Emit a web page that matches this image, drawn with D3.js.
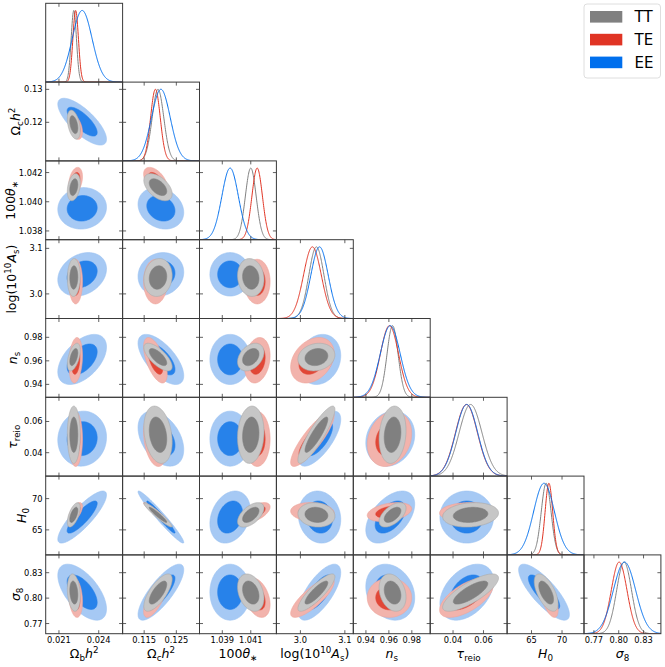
<!DOCTYPE html>
<html><head><meta charset="utf-8">
<script src="https://cdn.jsdelivr.net/npm/d3@7"></script>
<style>body{margin:0;background:#fff} svg{display:block} text{font-family:"DejaVu Sans",sans-serif;fill:#000}</style>
</head><body><svg id="c" width="665" height="667"></svg>
<script>
// ---------------- data ----------------
const params = ["omegabh2","omegach2","theta","logA","ns","tau_reio","H0","sigma8"];
const ranges = [[0.0200,0.0258],[0.1083,0.1322],[1.0374,1.0428],[2.946,3.119],[0.929,0.996],[0.025,0.0755],[61.0,73.6],[0.758,0.851]];
const xTicks = [[0.021,0.024],[0.115,0.125],[1.039,1.041],[3.0,3.1],[0.94,0.96,0.98],[0.04,0.06],[65,70],[0.77,0.80,0.83]];
const xTickLabels = [["0.021","0.024"],["0.115","0.125"],["1.039","1.041"],["3.0","3.1"],["0.94","0.96","0.98"],["0.04","0.06"],["65","70"],["0.77","0.80","0.83"]];
const yTicks = [[],[0.12,0.13],[1.038,1.040,1.042],[3.0,3.1],[0.94,0.96,0.98],[0.04,0.06],[65,70],[0.77,0.80,0.83]];
const yTickLabels = [[],["0.12","0.13"],["1.038","1.040","1.042"],["3.0","3.1"],["0.94","0.96","0.98"],["0.04","0.06"],["65","70"],["0.77","0.80","0.83"]];
const axisLabels = [
  [["Ω","n"],["b","sub"],["h","i"],["2","sup"]],
  [["Ω","n"],["c","sub"],["h","i"],["2","sup"]],
  [["100","n"],["θ","i"],["∗","sub"]],
  [["log(10","n"],["10","sup"],["A","i"],["s","sub"],[")","n"]],
  [["n","i"],["s","sub"]],
  [["τ","i"],["reio","sub"]],
  [["H","i"],["0","sub"]],
  [["σ","i"],["8","sub"]]
];
const datasets = ["TT","TE","EE"];
const lineColors = ["#808080","#E03424","#006FED"];
const meanTT  = [0.02212,0.1193,1.04100,3.036,0.9632,0.0515,67.40,0.8065];
const sigmaTT = [0.00020,0.0018,0.00038,0.017,0.0048,0.0075,0.80,0.0090];
const meanTE  = [0.02226,0.1185,1.04145,3.027,0.9605,0.0488,67.85,0.8005];
const sigmaTE = [0.00021,0.0015,0.00037,0.020,0.0079,0.0072,0.62,0.0095];
const meanEE  = [0.02275,0.1202,1.03955,3.043,0.9612,0.0490,67.05,0.8070];
const sigmaEE = [0.00075,0.0029,0.00058,0.0195,0.0087,0.0072,1.70,0.0135];
const corrTT = [[],[-0.40],[0.30,-0.50],[0.05,0.10,-0.10],[0.50,-0.70,0.35,0.15],[0.00,-0.25,0.10,0.88,0.15],[0.60,-0.95,0.55,-0.10,0.55,0.15],[-0.20,0.72,-0.30,0.85,-0.25,0.78,-0.60]];
const corrTE = [[],[-0.40],[0.30,-0.50],[0.00,0.00,0.00],[0.20,-0.60,0.20,0.30],[0.00,-0.25,0.00,0.85,0.20],[0.60,-0.95,0.55,-0.10,0.35,0.10],[-0.20,0.70,-0.35,0.80,0.00,0.62,-0.60]];
const corrEE = [[],[-0.75],[0.05,-0.20],[0.25,0.10,0.00],[0.50,-0.65,0.00,0.15],[0.05,-0.40,0.00,0.70,0.15],[0.85,-0.97,0.25,-0.10,0.50,0.00],[-0.60,0.80,0.00,0.70,-0.20,0.40,-0.80]];
const contourLevels = [0.95,0.68];

// ---------------- styles ----------------
const fills = {
  TT:{outer:"#c6c6c6",inner:"#808080",edge:"#a9a9a9"},
  TE:{outer:"#f2b3ac",inner:"#e14737",edge:"#eea49b"},
  EE:{outer:"#a6c9f4",inner:"#2782ea",edge:"#9cc2f2"}
};
const sets = {
  TT:{mean:meanTT,sigma:sigmaTT,corr:corrTT},
  TE:{mean:meanTE,sigma:sigmaTE,corr:corrTE},
  EE:{mean:meanEE,sigma:sigmaEE,corr:corrEE}
};

const gLeft=45.7, gTop=3.3, pw=76.9, ph=78.8, n=params.length;
const svg=d3.select("#c");
const xs=ranges.map((r,i)=>d3.scaleLinear().domain(r).range([gLeft+i*pw,gLeft+(i+1)*pw]));
const ys=ranges.map((r,i)=>d3.scaleLinear().domain(r).range([gTop+(i+1)*ph,gTop+i*ph]));
const defs=svg.append("defs");

function ellipsePts(mx,my,sx,sy,rho,k){
  const pts=[];
  for(let t=0;t<160;t++){
    const a=t/160*2*Math.PI;
    pts.push([mx+k*sx*Math.cos(a), my+k*sy*(rho*Math.cos(a)+Math.sqrt(1-rho*rho)*Math.sin(a))]);
  }
  return pts;
}
function rich(sel,segs,fs){
  let cur=0;
  segs.forEach(([t,s])=>{
    const ts=sel.append("tspan").text(t);
    let shift=0,size=fs;
    if(s==="sub"){shift=0.24*fs;size=0.7*fs;}
    if(s==="sup"){shift=-0.4*fs;size=0.7*fs;}
    ts.attr("dy",shift-cur).attr("font-size",size);
    if(s==="i") ts.attr("font-style","italic");
    cur=shift;
  });
}

const tickLen=3.5, frameCol="#3a3a3a";
for(let i=0;i<n;i++){
  for(let j=0;j<=i;j++){
    const x0=gLeft+j*pw, y0=gTop+i*ph;
    const cid="clip"+i+"_"+j;
    defs.append("clipPath").attr("id",cid).append("rect").attr("x",x0).attr("y",y0).attr("width",pw).attr("height",ph);
    const g=svg.append("g").attr("clip-path","url(#"+cid+")");
    if(i===j){
      const yd=d3.scaleLinear().domain([0,1.1]).range([y0+ph,y0]);
      const grid=d3.range(0,301).map(k=>ranges[j][0]+(ranges[j][1]-ranges[j][0])*k/300);
      datasets.forEach((d,di)=>{
        const m=sets[d].mean[j], s=sets[d].sigma[j];
        const line=d3.line().x(v=>xs[j](v)).y(v=>yd(Math.exp(-0.5*((v-m)/s)**2)));
        g.append("path").attr("d",line(grid)).attr("fill","none").attr("stroke",lineColors[di]).attr("stroke-width",1);
      });
    } else {
      ["EE","TE","TT"].forEach(d=>{
        const S=sets[d];
        contourLevels.forEach((p,li)=>{
          const k=Math.sqrt(-2*Math.log(1-p));
          const pts=ellipsePts(S.mean[j],S.mean[i],S.sigma[j],S.sigma[i],S.corr[i][j],k);
          const line=d3.line().x(q=>xs[j](q[0])).y(q=>ys[i](q[1])).curve(d3.curveLinearClosed);
          g.append("path").attr("d",line(pts))
            .attr("fill",li===0?fills[d].outer:fills[d].inner)
            .attr("stroke",li===0?fills[d].edge:fills[d].inner).attr("stroke-width",0.6);
        });
      });
    }
    const tg=svg.append("g").attr("stroke",frameCol).attr("stroke-width",0.8);
    xTicks[j].forEach(v=>{
      const x=xs[j](v);
      tg.append("line").attr("x1",x).attr("x2",x).attr("y1",y0+ph).attr("y2",y0+ph-tickLen);
      tg.append("line").attr("x1",x).attr("x2",x).attr("y1",y0).attr("y2",y0+tickLen);
    });
    yTicks[i].forEach(v=>{
      const y=ys[i](v);
      tg.append("line").attr("x1",x0).attr("x2",x0+tickLen).attr("y1",y).attr("y2",y);
      tg.append("line").attr("x1",x0+pw).attr("x2",x0+pw-tickLen).attr("y1",y).attr("y2",y);
    });
    svg.append("rect").attr("x",x0).attr("y",y0).attr("width",pw).attr("height",ph)
      .attr("fill","none").attr("stroke",frameCol).attr("stroke-width",1);
  }
}

const tfs=8.3;
for(let j=0;j<n;j++){
  xTicks[j].forEach((v,k)=>{
    svg.append("text").attr("x",xs[j](v)).attr("y",643.2).attr("text-anchor","middle")
      .attr("font-size",tfs).text(xTickLabels[j][k]);
  });
}
for(let i=1;i<n;i++){
  yTicks[i].forEach((v,k)=>{
    svg.append("text").attr("x",42.6).attr("y",ys[i](v)+3).attr("text-anchor","end")
      .attr("font-size",tfs).text(yTickLabels[i][k]);
  });
}
const lfs=12.5;
for(let j=0;j<n;j++){
  const t=svg.append("text").attr("x",gLeft+(j+0.5)*pw).attr("y",657.5).attr("text-anchor","middle").attr("font-size",lfs);
  rich(t,axisLabels[j],lfs);
}
const yLabelX=[0,20,15,15.5,17,17,25.5,19.5];
for(let i=1;i<n;i++){
  const t=svg.append("text").attr("transform","translate("+yLabelX[i]+","+(gTop+(i+0.5)*ph)+") rotate(-90)")
    .attr("text-anchor","middle").attr("font-size",lfs);
  rich(t,axisLabels[i],lfs);
}
const lg=svg.append("g");
lg.append("rect").attr("x",584).attr("y",4).attr("width",76.5).attr("height",74).attr("rx",3)
  .attr("fill","#fff").attr("stroke","#d6d6d6").attr("stroke-width",0.8);
const legendFill=["#808080","#E03424","#006FED"];
datasets.forEach((d,k)=>{
  const cy=16.8+k*22.8;
  lg.append("rect").attr("x",590).attr("y",cy-5.8).attr("width",32.3).attr("height",11.6).attr("fill",legendFill[k]);
  lg.append("text").attr("x",634.5).attr("y",cy+5.3).attr("font-size",15).text(d);
});
</script></body></html>
